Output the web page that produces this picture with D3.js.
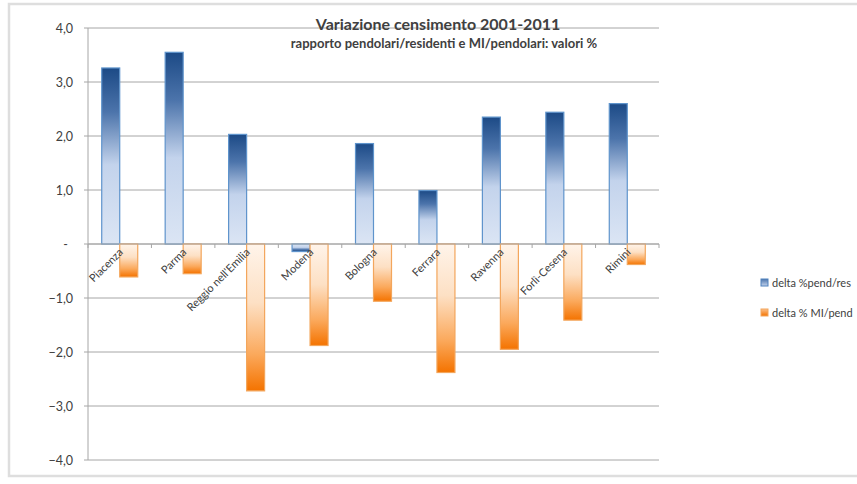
<!DOCTYPE html>
<html><head><meta charset="utf-8">
<script src="https://cdn.jsdelivr.net/npm/d3@7"></script>
<style>body{margin:0;background:#fff;font-family:Lato,"Open Sans",sans-serif;}</style>
</head><body><svg id="c" width="857" height="484"></svg>
<script>
const categories = ["Piacenza","Parma","Reggio nell'Emilia","Modena","Bologna","Ferrara","Ravenna","Forlì-Cesena","Rimini"];
const pendRes = [3.26, 3.55, 2.03, -0.14, 1.86, 0.99, 2.35, 2.44, 2.60];
const miPend = [-0.61, -0.55, -2.72, -1.88, -1.06, -2.38, -1.95, -1.41, -0.38];
const seriesNames = ["delta %pend/res", "delta % MI/pend"];
const yTicks = [4,3,2,1,0,-1,-2,-3,-4];
const titleText = "Variazione censimento 2001-2011";
const subtitleText = "rapporto pendolari/residenti e MI/pendolari: valori %";

const svg = d3.select("#c");
const defs = svg.append("defs");
function grad(id, stops, x1,y1,x2,y2){
  const g = defs.append("linearGradient").attr("id",id).attr("x1",x1).attr("y1",y1).attr("x2",x2).attr("y2",y2);
  stops.forEach(s=>g.append("stop").attr("offset",s[0]).attr("stop-color",s[1]));
}
grad("bluePos", [[0,"#1c4a86"],[0.25,"#4c74ab"],[0.55,"#c3d3ec"],[1,"#dbe5f4"]], 0,0,0,1);
grad("blueNeg", [[0,"#dbe5f4"],[0.45,"#c3d3ec"],[0.75,"#4c74ab"],[1,"#1c4a86"]], 0,0,0,1);
grad("orNeg", [[0,"#fff4ea"],[0.4,"#fde0c4"],[0.75,"#fba95c"],[1,"#f47300"]], 0,0,0,1);
grad("orPos", [[0,"#f47300"],[0.25,"#fba95c"],[0.6,"#fde0c4"],[1,"#fff4ea"]], 0,0,0,1);
grad("legBlue", [[0,"#4c74ab"],[1,"#c3d3ec"]], 0,0,0,1);
grad("legOr", [[0,"#fbc08a"],[1,"#f47300"]], 0,0,0,1);

// chart frame (left, top and bottom edges visible)
svg.append("path").attr("d","M857,4 H9 V476 H857")
  .attr("fill","none").attr("stroke","#dedede").attr("stroke-width",2.5);

const pL = 88, pR = 659, pT = 28, pB = 460;
const x = d3.scaleBand().domain(categories).range([pL,pR]).paddingInner(0).paddingOuter(0);
const y = d3.scaleLinear().domain([-4,4]).range([pB,pT]);

// grid
svg.append("g").selectAll("line").data(yTicks).join("line")
  .attr("x1",pL-4).attr("x2",pR).attr("y1",d=>y(d)).attr("y2",d=>y(d))
  .attr("stroke","#a6a6a6").attr("stroke-width",1);
svg.append("line").attr("x1",pL).attr("x2",pL).attr("y1",pT).attr("y2",pB)
  .attr("stroke","#a6a6a6");

// y labels
const fmt = d => d===0 ? "-" : d3.format(".1f")(d).replace(".",",");
svg.append("g").selectAll("text").data(yTicks).join("text")
  .attr("x",d=>d===0?68:73).attr("y",d=>y(d)+4.5).attr("text-anchor","end")
  .attr("font-size",12.5).attr("fill","#404040").text(fmt);

const bw = 18;
const xc = c => x(c) + x.bandwidth()/2;
// blue bars
svg.append("g").selectAll("rect").data(categories).join("rect")
  .attr("x",(c)=>xc(c)-bw).attr("width",bw)
  .attr("y",(c,i)=>y(Math.max(0,pendRes[i]))).attr("height",(c,i)=>Math.abs(y(pendRes[i])-y(0)))
  .attr("fill",(c,i)=>pendRes[i]>=0?"url(#bluePos)":"url(#blueNeg)")
  .attr("stroke","#5f94cc").attr("stroke-width",1.2);
// orange bars
svg.append("g").selectAll("rect").data(categories).join("rect")
  .attr("x",(c)=>xc(c)).attr("width",bw)
  .attr("y",(c,i)=>y(Math.max(0,miPend[i]))).attr("height",(c,i)=>Math.abs(y(miPend[i])-y(0)))
  .attr("fill",(c,i)=>miPend[i]<0?"url(#orNeg)":"url(#orPos)")
  .attr("stroke","#f3a65c").attr("stroke-width",1.2);

// zero axis line with ticks
svg.append("line").attr("x1",pL).attr("x2",pR).attr("y1",y(0)).attr("y2",y(0))
  .attr("stroke","#a6a6a6");
const bounds = categories.map(c=>x(c)).concat([pR]);
svg.append("g").selectAll("line").data(bounds).join("line")
  .attr("x1",d=>d).attr("x2",d=>d).attr("y1",y(0)).attr("y2",y(0)+4).attr("stroke","#a6a6a6");

// category labels
svg.append("g").selectAll("text").data(categories).join("text")
  .attr("transform",c=>`translate(${xc(c)+4},${y(0)+9}) rotate(-45)`)
  .attr("text-anchor","end").attr("font-size",11).attr("fill","#404040").text(c=>c);

// titles
svg.append("text").attr("x",438).attr("y",30).attr("text-anchor","middle")
  .attr("font-size",16).attr("font-weight","bold").attr("fill","#404040").text(titleText);
svg.append("text").attr("x",444).attr("y",48).attr("text-anchor","middle")
  .attr("font-size",13).attr("font-weight","bold").attr("fill","#404040").text(subtitleText);

// legend
const legStroke = ["#4f81bd","#f3a65c"];
const lg = svg.append("g").selectAll("g").data(seriesNames).join("g")
  .attr("transform",(d,i)=>`translate(761,${283+i*30})`);
lg.append("rect").attr("x",0).attr("y",-4).attr("width",7).attr("height",7)
  .attr("fill",(d,i)=>i===0?"url(#legBlue)":"url(#legOr)").attr("stroke",(d,i)=>legStroke[i]);
lg.append("text").attr("x",11).attr("y",4).attr("font-size",11).attr("fill","#404040").text(d=>d);
</script></body></html>
